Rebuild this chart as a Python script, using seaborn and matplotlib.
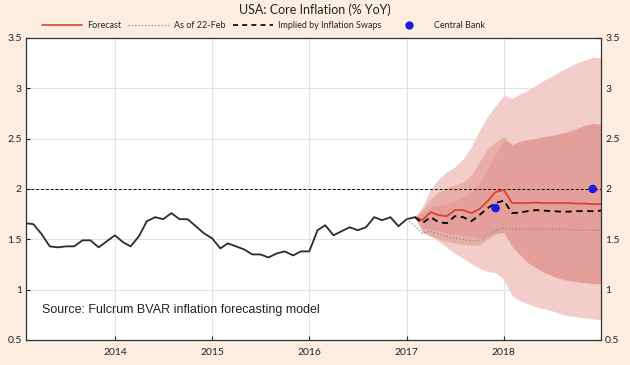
import numpy as np
import pandas as pd
import matplotlib
matplotlib.use("Agg")
import matplotlib.pyplot as plt
from matplotlib.lines import Line2D
import seaborn as sns

# Monthly core inflation history (Feb 2013 - Feb 2017)
hist_start = "2013-02-01"
hist_values = [1.66, 1.65, 1.55, 1.43, 1.42, 1.43, 1.43, 1.49, 1.49, 1.42,
               1.48, 1.54, 1.47, 1.43, 1.53, 1.68, 1.72, 1.70, 1.76, 1.70,
               1.70, 1.63, 1.56, 1.51, 1.41, 1.46, 1.43, 1.40, 1.35, 1.35,
               1.32, 1.36, 1.38, 1.34, 1.38, 1.38, 1.59, 1.64, 1.54, 1.58,
               1.62, 1.59, 1.62, 1.72, 1.69, 1.72, 1.63, 1.70, 1.72]

# Forecast horizon (Feb 2017 - Jan 2019)
fc_start = "2017-02-01"
forecast = [1.72, 1.69, 1.77, 1.74, 1.73, 1.79, 1.79, 1.76, 1.80, 1.88,
            1.97, 1.99, 1.86, 1.86, 1.86, 1.865, 1.86, 1.86, 1.86, 1.86,
            1.855, 1.855, 1.85, 1.85]
swaps = [1.72, 1.66, 1.72, 1.67, 1.66, 1.73, 1.72, 1.68, 1.74, 1.81,
         1.86, 1.885, 1.76, 1.765, 1.78, 1.79, 1.785, 1.78, 1.775, 1.775,
         1.78, 1.78, 1.78, 1.785]

# fan bands
outer_hi = [1.72, 1.82, 2.00, 2.10, 2.17, 2.22, 2.30, 2.42, 2.58, 2.72,
            2.83, 2.93, 2.90, 2.94, 2.98, 3.03, 3.08, 3.12, 3.17, 3.21,
            3.25, 3.28, 3.31, 3.30]
outer_lo = [1.72, 1.62, 1.56, 1.48, 1.42, 1.36, 1.31, 1.26, 1.21, 1.18,
            1.17, 1.10, 0.94, 0.89, 0.86, 0.83, 0.81, 0.79, 0.76, 0.74,
            0.73, 0.72, 0.71, 0.70]
mid_hi = [1.72, 1.80, 1.90, 1.97, 2.01, 2.04, 2.07, 2.14, 2.27, 2.40,
          2.47, 2.52, 2.44, 2.47, 2.49, 2.50, 2.52, 2.53, 2.55, 2.57,
          2.60, 2.63, 2.65, 2.64]
mid_lo = [1.72, 1.57, 1.53, 1.50, 1.48, 1.46, 1.45, 1.44, 1.44, 1.50,
          1.55, 1.57, 1.43, 1.35, 1.27, 1.22, 1.17, 1.14, 1.11, 1.09,
          1.08, 1.07, 1.06, 1.06]
inner_hi = [1.72, 1.76, 1.82, 1.84, 1.85, 1.88, 1.92, 1.97, 2.05, 2.20,
            2.35, 2.48, 2.44, 2.47, 2.49, 2.50, 2.52, 2.53, 2.55, 2.57,
            2.60, 2.63, 2.65, 2.64]
inner_lo = [1.72, 1.62, 1.60, 1.58, 1.56, 1.55, 1.54, 1.53, 1.52, 1.54,
            1.57, 1.57, 1.43, 1.35, 1.27, 1.22, 1.17, 1.14, 1.11, 1.09,
            1.08, 1.07, 1.06, 1.06]

# previous forecast, as of 22-Feb (Jan 2017 - Jan 2019)
prev_start = "2017-01-01"
prev_values = [1.70, 1.63, 1.56, 1.58, 1.55, 1.53, 1.51, 1.50, 1.48, 1.49,
               1.53, 1.59, 1.61, 1.60, 1.60, 1.60, 1.60, 1.60, 1.60, 1.60,
               1.60, 1.59, 1.59, 1.59, 1.59]

# central bank projections
cb_dates = ["2017-12-01", "2018-12-01"]
cb_values = [1.81, 2.00]

x_years = ["2014", "2015", "2016", "2017", "2018"]
y_ticks = [0.5, 1, 1.5, 2, 2.5, 3, 3.5]
y_labels = ["0.5", "1", "1.5", "2", "2.5", "3", "3.5"]

hist = pd.DataFrame({"date": pd.date_range(hist_start, periods=len(hist_values), freq="MS"),
                     "value": hist_values})
fc = pd.DataFrame({"date": pd.date_range(fc_start, periods=len(forecast), freq="MS"),
                   "forecast": forecast, "swaps": swaps})
prev = pd.DataFrame({"date": pd.date_range(prev_start, periods=len(prev_values), freq="MS"),
                     "value": prev_values})
cb = pd.DataFrame({"date": pd.to_datetime(cb_dates), "value": cb_values})

sns.set_style("white")
plt.rcParams['font.family'] = ['Lato', 'DejaVu Sans']

bg = "#fbeee1"
red = "#d8442c"
fig = plt.figure(figsize=(6.3, 3.65), dpi=100, facecolor=bg)
ax = fig.add_axes([0.0413, 0.0685, 0.9127, 0.8275])
ax.set_facecolor("white")

# fan chart
ax.fill_between(fc["date"], outer_lo, outer_hi, color="#f2cdc9", lw=0)
ax.fill_between(fc["date"], mid_lo, mid_hi, color="#eaaea9", lw=0)
ax.fill_between(fc["date"], inner_lo, inner_hi, color="#e59f9a", lw=0)

ax.axhline(2.0, color="black", lw=0.7, ls=(0, (3, 2)))

sns.lineplot(data=hist, x="date", y="value", ax=ax, color="#2b2b2b", lw=1.3, legend=False)
sns.lineplot(data=prev, x="date", y="value", ax=ax, color="#8a8a8a", lw=0.9, ls=":", legend=False)
sns.lineplot(data=fc, x="date", y="forecast", ax=ax, color=red, lw=1.3, legend=False)
sns.lineplot(data=fc, x="date", y="swaps", ax=ax, color="black", lw=1.3,
             dashes=False, ls=(0, (3.5, 2.5)), legend=False)
sns.scatterplot(data=cb, x="date", y="value", ax=ax, color="#1c1ce0", s=38,
                edgecolor="none", zorder=5, legend=False)

ax.set_xlim(pd.Timestamp("2013-02-01"), pd.Timestamp("2019-01-01"))
ax.set_ylim(0.5, 3.5)
ax.set_yticks(y_ticks)
ax.set_yticklabels(y_labels)
ax.set_xticks(pd.to_datetime([y + "-01-01" for y in x_years]))
ax.set_xticklabels(x_years)
ax.set_xlabel("")
ax.set_ylabel("")
ax.grid(True, color="#e2e2e2", lw=0.8)
ax.set_axisbelow(True)
ax.tick_params(axis="both", direction="in", length=3, width=0.8, labelsize=7.5,
               colors="#222222")
ax.tick_params(axis="y", left=True, right=True, labelright=True, pad=3)
ax.tick_params(axis="x", bottom=True, pad=6)
for s in ax.spines.values():
    s.set_color("#333333")
    s.set_linewidth(0.9)

fig.text(0.5, 0.972, "USA: Core Inflation (% YoY)", ha="center", va="center",
         fontsize=9, color="#222222")

handles = [Line2D([], [], color=red, lw=1.2),
           Line2D([], [], color="#8a8a8a", lw=0.9, ls=":"),
           Line2D([], [], color="black", lw=1.2, ls=(0, (3, 2.5))),
           Line2D([], [], color="#1c1ce0", marker="o", ls="none", markersize=5)]
labels = ["Forecast", "As of 22-Feb", "Implied by Inflation Swaps", "Central Bank"]
fig.legend(handles, labels, loc="center", bbox_to_anchor=(0.418, 0.93), ncol=4,
           frameon=False, fontsize=6.5, handlelength=4.5, handletextpad=0.5,
           columnspacing=0.85)

ax.text(0.028, 0.088, "Source: Fulcrum BVAR inflation forecasting model",
        transform=ax.transAxes, fontsize=9, color="#222222",
        family=["Liberation Sans", "DejaVu Sans"])

fig.savefig("out.png", dpi=100, facecolor=bg)
